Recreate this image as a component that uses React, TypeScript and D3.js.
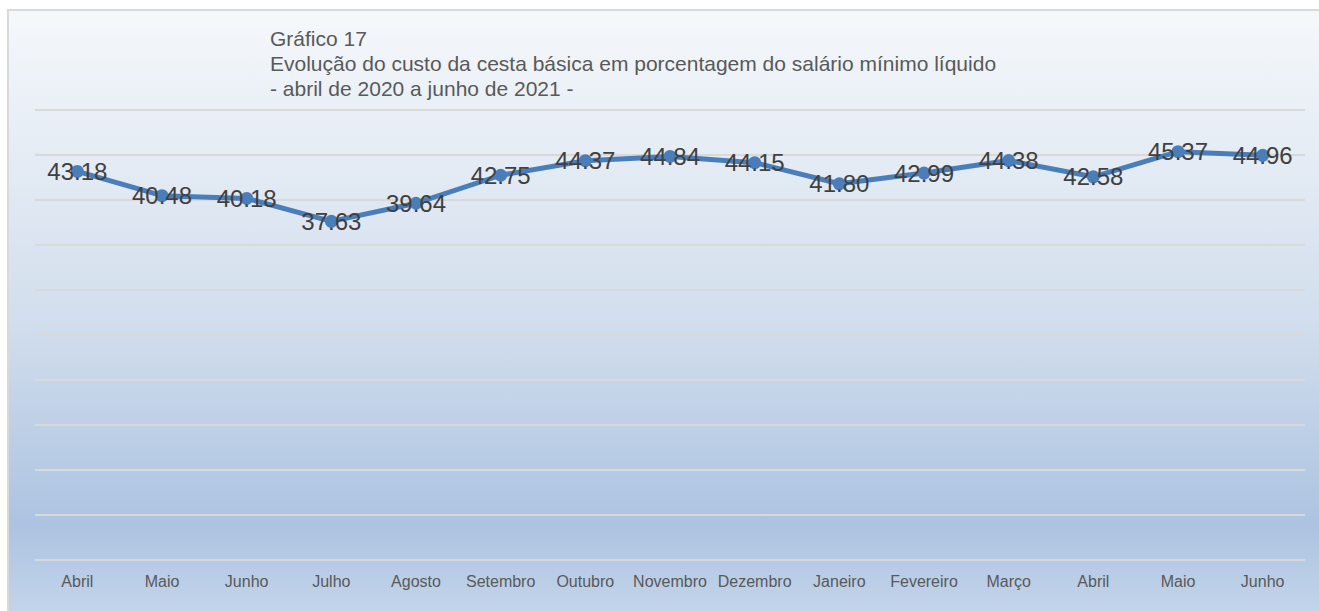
import React from "react";
import * as d3 from "d3";

const categories = [
  "Abril", "Maio", "Junho", "Julho", "Agosto", "Setembro", "Outubro", "Novembro",
  "Dezembro", "Janeiro", "Fevereiro", "Março", "Abril", "Maio", "Junho",
];
const values = [43.18, 40.48, 40.18, 37.63, 39.64, 42.75, 44.37, 44.84, 44.15, 41.8, 42.99, 44.38, 42.58, 45.37, 44.96];
const yTicks = [0, 5, 10, 15, 20, 25, 30, 35, 40, 45, 50];
const titleLines = [
  "Gráfico 17",
  "Evolução do custo da cesta básica em porcentagem do salário mínimo líquido",
  "- abril de 2020 a junho de 2021 -",
];

const W = 1319;
const H = 611;
const font = "'Liberation Sans', Arial, sans-serif";

export default function App() {
  const keys = categories.map((_, i) => String(i));
  const x = d3.scaleBand().domain(keys).range([35, 1305]);
  const y = d3.scaleLinear().domain([0, 50]).range([560, 110]);
  const cx = (i: number) => (x(String(i)) ?? 0) + x.bandwidth() / 2;

  const line = d3
    .line<number>()
    .x((_, i) => cx(i))
    .y((d) => y(d));

  return (
    <svg
      width={W}
      height={H}
      style={{ position: "absolute", left: 0, top: 0, display: "block" }}
      fontFamily={font}
    >
      <defs>
        <linearGradient id="bg" x1="0" y1="0" x2="0" y2="1">
          <stop offset="0" stopColor="#f5f8fb" />
          <stop offset="0.5" stopColor="#d2deed" />
          <stop offset="0.83" stopColor="#acc3e1" />
          <stop offset="1" stopColor="#c8d8ec" />
        </linearGradient>
      </defs>
      <rect x={8} y={10} width={W + 10} height={H + 10} fill="url(#bg)" stroke="#d9d9d9" strokeWidth={2} />

      {yTicks.map((t) => (
        <line key={t} x1={35} x2={1305} y1={y(t)} y2={y(t)} stroke="#d9d9d9" strokeWidth={2} />
      ))}

      {titleLines.map((s, i) => (
        <text key={i} x={270} y={46 + i * 25} fontSize={21} fill="#595959">
          {s}
        </text>
      ))}

      {categories.map((c, i) => (
        <text key={i} x={cx(i)} y={587} fontSize={16} fill="#595959" textAnchor="middle">
          {c}
        </text>
      ))}

      <path d={line(values) ?? ""} fill="none" stroke="#4a7ebb" strokeWidth={5} strokeLinejoin="round" />
      {values.map((v, i) => (
        <circle key={i} cx={cx(i)} cy={y(v)} r={6.5} fill="#4a7ebb" />
      ))}

      {values.map((v, i) => (
        <text
          key={i}
          x={cx(i)}
          y={y(v)}
          dy="0.36em"
          fontSize={24}
          fill="#404040"
          textAnchor="middle"
        >
          {v.toFixed(2)}
        </text>
      ))}
    </svg>
  );
}
